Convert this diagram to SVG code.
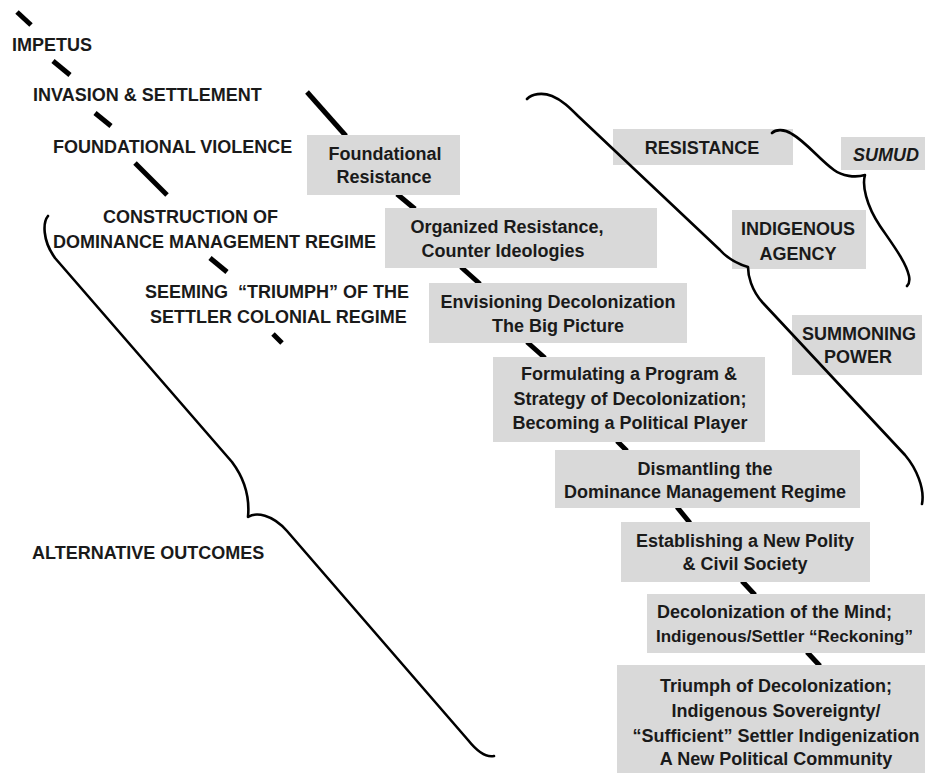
<svg xmlns="http://www.w3.org/2000/svg" width="925" height="773" viewBox="0 0 925 773">
<style>
.bg{fill:#ffffff}
.box{fill:#d9d9d9}
.t{font-family:"Liberation Sans",Arial,sans-serif;font-weight:bold;font-size:18px;fill:#1a1a1a;white-space:pre}
.c{text-anchor:middle}
.i{font-style:italic}
.dash{stroke:#000;stroke-width:5;stroke-linecap:butt;fill:none}
.brace{stroke:#000;stroke-width:2.6;fill:none;stroke-linecap:round;stroke-linejoin:round}
</style>
<rect class="bg" x="0" y="0" width="925" height="773"/>
<g id="connectors">
  <g id="timeline-left">
    <line class="dash" x1="17" y1="12" x2="31" y2="25"/>
    <line class="dash" x1="53" y1="61" x2="70" y2="75"/>
    <line class="dash" x1="95" y1="113" x2="111" y2="126"/>
    <line class="dash" x1="135" y1="163" x2="167" y2="195"/>
    <line class="dash" x1="210" y1="258" x2="227" y2="272"/>
    <line class="dash" x1="273" y1="334" x2="282" y2="343"/>
  </g>
  <g id="timeline-right">
    <line class="dash" x1="307" y1="92" x2="346" y2="136"/>
    <line class="dash" x1="397" y1="194" x2="415" y2="209"/>
    <line class="dash" x1="461" y1="267" x2="480" y2="284"/>
    <line class="dash" x1="527" y1="342" x2="545" y2="358"/>
    <line class="dash" x1="617" y1="441" x2="627" y2="451"/>
    <line class="dash" x1="677" y1="507" x2="690" y2="523"/>
    <line class="dash" x1="742" y1="581" x2="755" y2="595"/>
    <line class="dash" x1="807" y1="652" x2="820" y2="666"/>
  </g>
</g>
<g id="n-foundational-resistance">
  <rect class="box" x="307" y="135" width="153" height="60"/>
  <text class="t c" x="385" y="160">Foundational</text>
  <text class="t c" x="384" y="183">Resistance</text>
</g>
<g id="n-organized-resistance">
  <rect class="box" x="385" y="208" width="272" height="60"/>
  <text class="t c" x="507" y="233">Organized Resistance,</text>
  <text class="t c" x="503" y="257">Counter Ideologies</text>
</g>
<g id="n-envisioning">
  <rect class="box" x="429" y="283" width="258" height="60"/>
  <text class="t c" x="558" y="308">Envisioning Decolonization</text>
  <text class="t c" x="558" y="332">The Big Picture</text>
</g>
<g id="n-formulating">
  <rect class="box" x="493" y="357" width="272" height="85"/>
  <text class="t c" x="629" y="380">Formulating a Program &amp;</text>
  <text class="t c" x="630" y="405">Strategy of Decolonization;</text>
  <text class="t c" x="630" y="429">Becoming a Political Player</text>
</g>
<g id="n-dismantling">
  <rect class="box" x="555" y="450" width="305" height="58"/>
  <text class="t c" x="705" y="475">Dismantling the</text>
  <text class="t c" x="705" y="498">Dominance Management Regime</text>
</g>
<g id="n-establishing">
  <rect class="box" x="621" y="522" width="249" height="60"/>
  <text class="t c" x="745" y="547">Establishing a New Polity</text>
  <text class="t c" x="745" y="570">&amp; Civil Society</text>
</g>
<g id="n-decolonization-mind">
  <rect class="box" x="647" y="594" width="278" height="59"/>
  <text class="t" x="657" y="618">Decolonization of the Mind;</text>
  <text class="t" x="656" y="642" style="font-size:17px">Indigenous/Settler “Reckoning”</text>
</g>
<g id="n-triumph">
  <rect class="box" x="617" y="665" width="308" height="108"/>
  <text class="t c" x="776" y="692">Triumph of Decolonization;</text>
  <text class="t c" x="776" y="717">Indigenous Sovereignty/</text>
  <text class="t c" x="776" y="742">“Sufficient” Settler Indigenization</text>
  <text class="t c" x="776" y="765">A New Political Community</text>
</g>
<g id="n-resistance">
  <rect class="box" x="613" y="129" width="180" height="36"/>
  <text class="t c" x="702" y="154">RESISTANCE</text>
</g>
<g id="n-sumud">
  <rect class="box" x="841" y="137" width="84" height="33"/>
  <text class="t c i" x="886" y="161">SUMUD</text>
</g>
<g id="n-indigenous-agency">
  <rect class="box" x="732" y="210" width="134" height="59"/>
  <text class="t c" x="798" y="235">INDIGENOUS</text>
  <text class="t c" x="798" y="260">AGENCY</text>
</g>
<g id="n-summoning-power">
  <rect class="box" x="792" y="315" width="130" height="60"/>
  <text class="t c" x="859" y="340">SUMMONING</text>
  <text class="t c" x="858" y="363">POWER</text>
</g>
<g id="n-impetus"><text class="t" x="12" y="51">IMPETUS</text></g>
<g id="n-invasion"><text class="t" x="33" y="101">INVASION &amp; SETTLEMENT</text></g>
<g id="n-foundational-violence"><text class="t" x="53" y="153">FOUNDATIONAL VIOLENCE</text></g>
<g id="n-construction">
  <text class="t" x="103" y="223">CONSTRUCTION OF</text>
  <text class="t" x="53" y="248">DOMINANCE MANAGEMENT REGIME</text>
</g>
<g id="n-seeming-triumph">
  <text class="t" x="145" y="298" xml:space="preserve">SEEMING  “TRIUMPH” OF THE</text>
  <text class="t" x="150" y="323">SETTLER COLONIAL REGIME</text>
</g>
<g id="n-alternative-outcomes"><text class="t" x="32" y="559">ALTERNATIVE OUTCOMES</text></g>
<g id="braces">
  <path class="brace" d="M527,99 C532,94 542,92 552,96 C562,100 570,108 578,116 L720,250 C728,259 738,264 748,267 C748,275 751,290 763,303 L905,455 C916,468 925,488 922,504"/>
  <path class="brace" d="M772,133 C776,129 784,129 792,134 C806,142 820,160 834,170 C842,176 855,178 865,175 C862,185 866,205 880,226 C893,245 906,262 909,276 C910,281 909,284 907,286"/>
  <path class="brace" d="M48,216 C43,222 42,240 55,258 L232,462 C244,478 250,496 248,517 C256,512 272,514 287,531 L468,740 C476,750 485,758 494,756"/>
</g>
</svg>
